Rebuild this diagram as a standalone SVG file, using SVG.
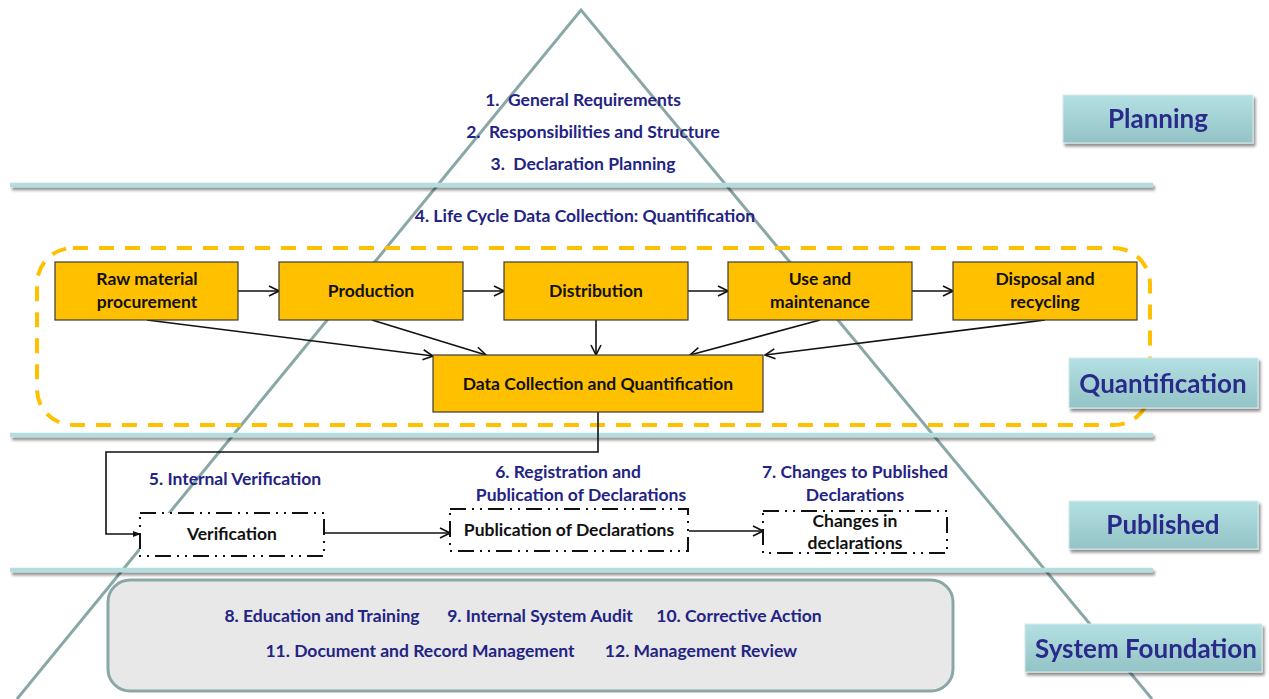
<svg xmlns="http://www.w3.org/2000/svg" width="1269" height="699" viewBox="0 0 1269 699">
  <style>
    .blue { font-family: Lato, "Liberation Sans", sans-serif; font-weight: bold; font-size: 17.5px; fill: #232383; text-anchor: middle; }
    .node { fill: #ffc000; stroke: #3a3a3a; stroke-width: 1.2; }
    .ntext { font-family: Lato, "Liberation Sans", sans-serif; font-weight: bold; font-size: 17.5px; fill: #111; text-anchor: middle; }
    .dd { fill: #fff; stroke: #111; stroke-width: 2; stroke-dasharray: 16 6 2 6 2 6; }
    .conn { fill: none; stroke: #111; stroke-width: 1.6; }
    .bar { stroke: #b5dde0; stroke-width: 4.5; }
    .stage { fill: url(#stageGrad); stroke: #d7eaec; stroke-width: 1; }
    .stext { font-family: Lato, "Liberation Sans", sans-serif; font-weight: bold; font-size: 26px; fill: #2b2b8a; text-anchor: middle; }
  </style>
  <defs>
    <linearGradient id="stageGrad" x1="0" y1="0" x2="0" y2="1">
      <stop offset="0" stop-color="#b3e0e3"/>
      <stop offset="1" stop-color="#93c3c6"/>
    </linearGradient>
    <filter id="shadow" x="-5%" y="-100%" width="110%" height="400%">
      <feGaussianBlur in="SourceAlpha" stdDeviation="1.5"/>
      <feOffset dx="2" dy="3" result="b"/>
      <feComponentTransfer><feFuncA type="linear" slope="0.45"/></feComponentTransfer>
      <feMerge><feMergeNode/><feMergeNode in="SourceGraphic"/></feMerge>
    </filter>
    <marker id="open" viewBox="0 0 12 12" refX="11" refY="6" markerWidth="12" markerHeight="12" markerUnits="userSpaceOnUse" orient="auto">
      <path d="M1,1 L11,6 L1,11" fill="none" stroke="#111" stroke-width="1.6"/>
    </marker>
    <marker id="solid" viewBox="0 0 10 10" refX="9" refY="5" markerWidth="8" markerHeight="8" markerUnits="userSpaceOnUse" orient="auto">
      <path d="M0,1 L10,5 L0,9 Z" fill="#111"/>
    </marker>
  </defs>

  <rect width="1269" height="699" fill="#fff"/>

  <!-- pyramid outline -->
  <polyline points="17,699 581,10 1152,699" fill="none" stroke="#8aa7a8" stroke-width="3"/>

  <!-- layer dividers -->
  <g filter="url(#shadow)">
    <line class="bar" x1="10" y1="185" x2="1153" y2="185"/>
    <line class="bar" x1="10" y1="435" x2="1153" y2="435"/>
    <line class="bar" x1="10" y1="570" x2="1153" y2="570"/>
  </g>

  <!-- planning items -->
  <g id="planning-items">
    <text class="blue" x="583" y="106">1.&#160; General Requirements</text>
    <text class="blue" x="593" y="138">2.&#160; Responsibilities and Structure</text>
    <text class="blue" x="583" y="170">3.&#160; Declaration Planning</text>
    <text class="blue" x="585" y="222">4. Life Cycle Data Collection: Quantification</text>
  </g>

  <!-- quantification boundary -->
  <rect id="lifecycle-boundary" x="37" y="248" width="1113" height="177" rx="36" fill="none" stroke="#ffc000" stroke-width="4" stroke-dasharray="15 11"/>

  <!-- stage labels -->
  <g id="stage-planning" filter="url(#shadow)">
    <rect class="stage" x="1063" y="95" width="190" height="48"/>
    <text class="stext" x="1158" y="128">Planning</text>
  </g>
  <g id="stage-quantification" filter="url(#shadow)">
    <rect class="stage" x="1069" y="358" width="189" height="50"/>
    <text class="stext" x="1163" y="393">Quantification</text>
  </g>
  <g id="stage-published" filter="url(#shadow)">
    <rect class="stage" x="1069" y="501" width="189" height="48"/>
    <text class="stext" x="1163" y="534">Published</text>
  </g>
  <g id="stage-foundation" filter="url(#shadow)">
    <rect class="stage" x="1025" y="624" width="237" height="48"/>
    <text class="stext" x="1146" y="658">System Foundation</text>
  </g>

  <!-- connectors -->
  <g id="connectors">
    <line class="conn" x1="238" y1="291" x2="279" y2="291" marker-end="url(#open)"/>
    <line class="conn" x1="463" y1="291" x2="504" y2="291" marker-end="url(#open)"/>
    <line class="conn" x1="688" y1="291" x2="728" y2="291" marker-end="url(#open)"/>
    <line class="conn" x1="912" y1="291" x2="953" y2="291" marker-end="url(#open)"/>
    <line class="conn" x1="147" y1="320" x2="433" y2="356" marker-end="url(#open)"/>
    <line class="conn" x1="372" y1="320" x2="486" y2="355" marker-end="url(#open)"/>
    <line class="conn" x1="596" y1="320" x2="596" y2="355" marker-end="url(#open)"/>
    <line class="conn" x1="820" y1="320" x2="690" y2="355" marker-end="url(#open)"/>
    <line class="conn" x1="1045" y1="320" x2="765" y2="355" marker-end="url(#open)"/>
    <polyline class="conn" points="598,412 598,452 106,452 106,534 140,534" marker-end="url(#solid)"/>
    <line class="conn" x1="325" y1="533" x2="450" y2="533" marker-end="url(#open)"/>
    <line class="conn" x1="689" y1="531" x2="763" y2="531" marker-end="url(#open)"/>
  </g>

  <!-- life cycle nodes -->
  <g id="raw-material">
    <rect class="node" x="55" y="262" width="183" height="58"/>
    <text class="ntext" x="147" y="285">Raw material</text>
    <text class="ntext" x="147" y="308">procurement</text>
  </g>
  <g id="production">
    <rect class="node" x="279" y="262" width="184" height="58"/>
    <text class="ntext" x="371" y="297">Production</text>
  </g>
  <g id="distribution">
    <rect class="node" x="504" y="262" width="184" height="58"/>
    <text class="ntext" x="596" y="297">Distribution</text>
  </g>
  <g id="use-maintenance">
    <rect class="node" x="728" y="262" width="184" height="58"/>
    <text class="ntext" x="820" y="285">Use and</text>
    <text class="ntext" x="820" y="308">maintenance</text>
  </g>
  <g id="disposal-recycling">
    <rect class="node" x="953" y="262" width="184" height="58"/>
    <text class="ntext" x="1045" y="285">Disposal and</text>
    <text class="ntext" x="1045" y="308">recycling</text>
  </g>
  <g id="data-collection">
    <rect class="node" x="433" y="355" width="330" height="57"/>
    <text class="ntext" x="598" y="390">Data Collection and Quantification</text>
  </g>

  <!-- published section -->
  <g id="published-labels">
    <text class="blue" x="235" y="485">5. Internal Verification</text>
    <text class="blue" x="568" y="478">6. Registration and</text>
    <text class="blue" x="581" y="501">Publication of Declarations</text>
    <text class="blue" x="855" y="478">7. Changes to Published</text>
    <text class="blue" x="855" y="501">Declarations</text>
  </g>
  <g id="verification">
    <rect class="dd" x="140" y="513" width="184" height="43"/>
    <text class="ntext" x="232" y="540">Verification</text>
  </g>
  <g id="publication">
    <rect class="dd" x="450" y="509" width="238" height="42"/>
    <text class="ntext" x="569" y="536">Publication of Declarations</text>
  </g>
  <g id="changes">
    <rect class="dd" x="763" y="511" width="184" height="42"/>
    <text class="ntext" x="855" y="527">Changes in</text>
    <text class="ntext" x="855" y="549">declarations</text>
  </g>

  <!-- system foundation -->
  <g id="foundation">
    <rect x="108" y="580" width="845" height="111" rx="22" fill="#e8e8e8" stroke="#8aa7a8" stroke-width="3"/>
    <text class="blue" x="322" y="622">8. Education and Training</text>
    <text class="blue" x="540" y="622">9. Internal System Audit</text>
    <text class="blue" x="739" y="622">10. Corrective Action</text>
    <text class="blue" x="420" y="657">11. Document and Record Management</text>
    <text class="blue" x="701" y="657">12. Management Review</text>
  </g>
</svg>
